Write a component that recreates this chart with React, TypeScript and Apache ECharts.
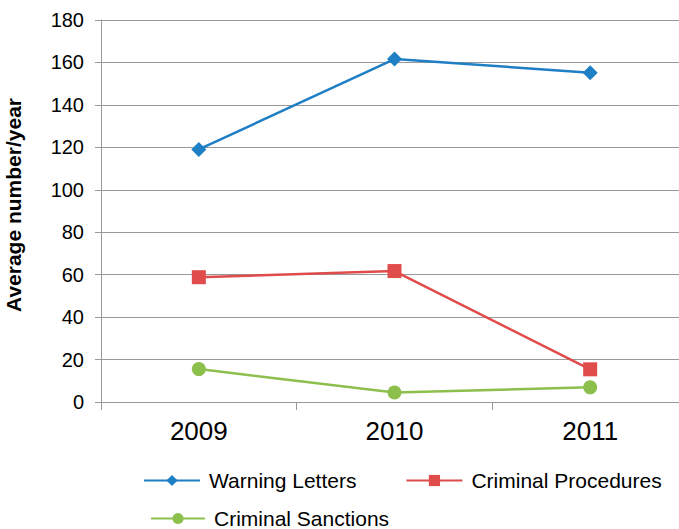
import React, { useEffect, useRef } from "react";
import * as echarts from "echarts";

const years = ["2009", "2010", "2011"];
const warningLetters = [119, 161.6, 155.2];
const criminalProcedures = [58.8, 61.7, 15.4];
const criminalSanctions = [15.5, 4.5, 6.9];
const yTicks = { min: 0, max: 180, interval: 20 };
const yTitle = "Average number/year";

const FONT = "'Liberation Sans', Arial, Helvetica, sans-serif";
const BLUE = "#1f7fc4";
const RED = "#e04b4b";
const GREEN = "#8dbf4c";
const GRID = "#999999";

export default function App() {
  const ref = useRef<HTMLDivElement>(null);
  useEffect(() => {
    if (!ref.current) return;
    const chart = echarts.init(ref.current, null, { renderer: "svg" });
    const lineSeries = (name: string, data: number[], color: string, symbol: string, size: number) => ({
      name,
      type: "line",
      data,
      symbol,
      symbolSize: size,
      showSymbol: true,
      lineStyle: { color, width: 2.5 },
      itemStyle: { color },
      z: 3,
    });
    chart.setOption({
      animation: false,
      textStyle: { fontFamily: FONT },
      grid: {
        left: 101,
        top: 20,
        right: -9,
        bottom: 127,
        containLabel: false,
        outerBoundsMode: "none",
      },
      graphic: [
        {
          type: "text",
          x: 13,
          y: 205,
          rotation: Math.PI / 2,
          style: {
            text: yTitle,
            fill: "#000",
            font: `bold 21px ${FONT}`,
            textAlign: "center",
            textVerticalAlign: "middle",
          },
        },
      ],
      legend: [
        {
          data: ["Warning Letters", "Criminal Procedures"],
          left: 143,
          top: 470,
          padding: 0,
          itemWidth: 56,
          itemHeight: 14,
          itemGap: 49,
          textStyle: { fontSize: 21, color: "#000", fontFamily: FONT, padding: [0, 0, 0, 4] },
        },
        {
          data: ["Criminal Sanctions"],
          left: 150,
          top: 508,
          padding: 0,
          itemWidth: 54,
          itemHeight: 14,
          textStyle: { fontSize: 21, color: "#000", fontFamily: FONT, padding: [0, 0, 0, 4] },
        },
      ],
      xAxis: {
        type: "category",
        data: years,
        boundaryGap: true,
        axisLine: { show: true, lineStyle: { color: GRID, width: 1 } },
        axisTick: { show: true, length: 8, lineStyle: { color: GRID } },
        axisLabel: { fontSize: 26, color: "#000", margin: 16, fontFamily: FONT },
        splitLine: { show: false },
      },
      yAxis: {
        type: "value",
        min: yTicks.min,
        max: yTicks.max,
        interval: yTicks.interval,
        axisLine: { show: true, lineStyle: { color: GRID, width: 1 } },
        axisTick: { show: true, length: 6, lineStyle: { color: GRID } },
        axisLabel: { fontSize: 20, color: "#000", margin: 17, fontFamily: FONT },
        splitLine: { show: true, lineStyle: { color: GRID, width: 1 } },
      },
      series: [
        lineSeries("Warning Letters", warningLetters, BLUE, "diamond", 15),
        lineSeries("Criminal Procedures", criminalProcedures, RED, "rect", 14),
        lineSeries("Criminal Sanctions", criminalSanctions, GREEN, "circle", 14),
      ],
    });
    return () => chart.dispose();
  }, []);
  return (
    <div
      ref={ref}
      style={{ position: "absolute", left: 0, top: 0, width: 679, height: 529, background: "#fff" }}
    />
  );
}
